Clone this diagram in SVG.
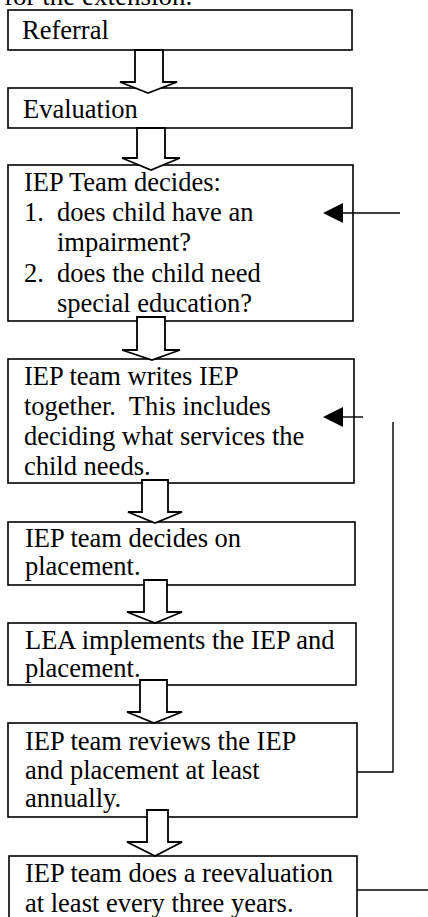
<svg xmlns="http://www.w3.org/2000/svg" width="428" height="917" viewBox="0 0 428 917">
<style>
.box{fill:#fff;stroke:#000;stroke-width:1.6}
.t{font-family:"Liberation Serif","Times New Roman",serif;font-size:26.5px;fill:#000}
.blk{fill:#fff;stroke:#000;stroke-width:1.8;stroke-linejoin:miter}
.ln{fill:none;stroke:#000;stroke-width:1.4}
.head{fill:#000;stroke:none}
</style>
<rect width="428" height="917" fill="#fff"/>
<text class="t" x="4" y="5" style="font-size:27px">for the extension.</text>
<g id="n1"><rect class="box" x="8" y="10" width="344" height="40"/><text class="t" x="22" y="39">Referral</text></g>
<g id="n2"><rect class="box" x="8" y="88" width="344" height="40"/><text class="t" x="23" y="118">Evaluation</text></g>
<g id="n3"><rect class="box" x="8" y="165" width="345" height="156"/>
<text class="t" x="24" y="191">IEP Team decides:</text>
<text class="t" x="24" y="221">1.</text><text class="t" x="57" y="221">does child have an</text>
<text class="t" x="57" y="251">impairment?</text>
<text class="t" x="24" y="282">2.</text><text class="t" x="57" y="282">does the child need</text>
<text class="t" x="57" y="312">special education?</text></g>
<g id="n4"><rect class="box" x="8" y="359" width="346" height="124"/>
<text class="t" x="24" y="385">IEP team writes IEP</text>
<text class="t" x="24" y="415" xml:space="preserve">together.  This includes</text>
<text class="t" x="24" y="445">deciding what services the</text>
<text class="t" x="24" y="475">child needs.</text></g>
<g id="n5"><rect class="box" x="8" y="522" width="347" height="63"/>
<text class="t" x="25" y="547">IEP team decides on</text>
<text class="t" x="25" y="575">placement.</text></g>
<g id="n6"><rect class="box" x="8" y="623" width="348" height="62"/>
<text class="t" x="25" y="649">LEA implements the IEP and</text>
<text class="t" x="25" y="677">placement.</text></g>
<g id="n7"><rect class="box" x="8" y="723" width="349" height="94"/>
<text class="t" x="25" y="750">IEP team reviews the IEP</text>
<text class="t" x="25" y="779">and placement at least</text>
<text class="t" x="25" y="807">annually.</text></g>
<g id="n8"><rect class="box" x="9" y="856" width="348" height="80"/>
<text class="t" x="25" y="882">IEP team does a reevaluation</text>
<text class="t" x="25" y="912">at least every three years.</text></g>
<g id="connectors">
<polygon class="blk" points="135,50 163,50 163,82 177,82 148,93 120,82 135,82"/>
<polygon class="blk" points="137,128 165,128 165,158 180,158 151,170 122,158 137,158"/>
<polygon class="blk" points="137,317 165,317 165,350 180,350 152,360 122,350 137,350"/>
<polygon class="blk" points="142,480 168,480 168,512 182,512 155,523 128,512 142,512"/>
<polygon class="blk" points="144,580 167,580 167,612 182,612 155,623 127,612 144,612"/>
<polygon class="blk" points="140,680 167,680 167,712 182,712 154,723 127,712 140,712"/>
<polygon class="blk" points="147,810 168,810 168,842 182,842 155,856 127,842 147,842"/>
<line class="ln" x1="400" y1="213" x2="340" y2="213"/>
<polygon class="head" points="323,213 343,203 343,223"/>
<line class="ln" x1="363" y1="417" x2="340" y2="417"/>
<polygon class="head" points="323,417 343,407 343,427"/>
<polyline class="ln" points="393,422 393,772 357,772"/>
<line class="ln" x1="357" y1="890" x2="428" y2="890"/>
</g>
</svg>
